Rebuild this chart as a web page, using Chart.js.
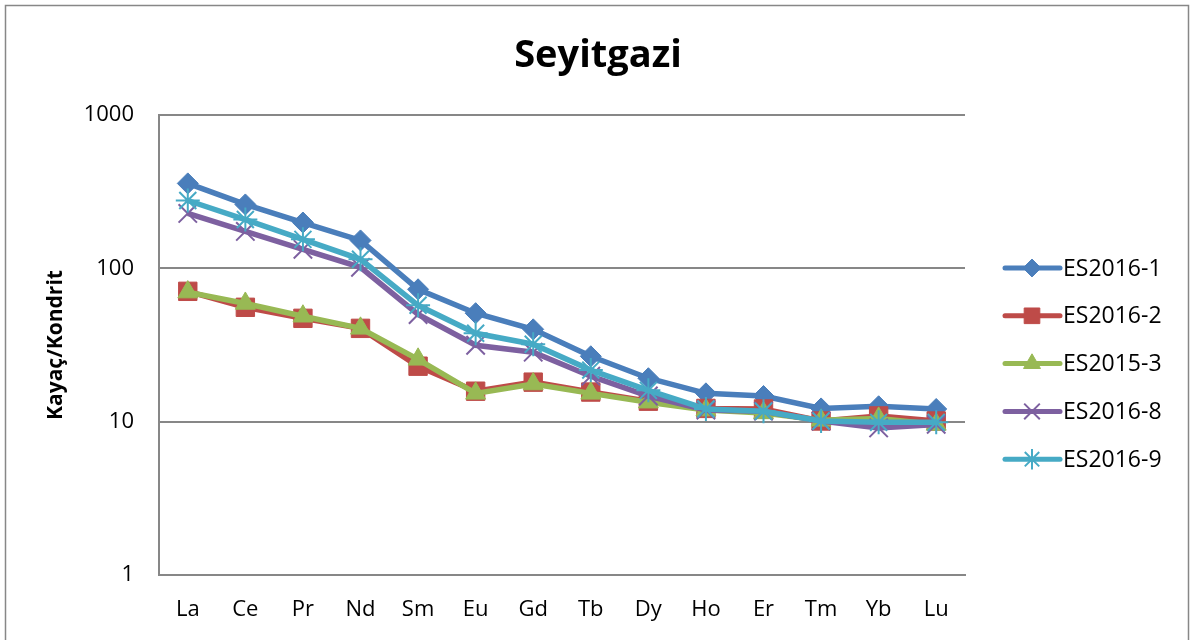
<!DOCTYPE html>
<html>
<head>
<meta charset="utf-8">
<script src="https://cdn.jsdelivr.net/npm/chart.js@4"></script>
<style>
  html, body { margin: 0; padding: 0; background: #fff; }
  #wrap { width: 1194px; height: 640px; position: relative; }
</style>
</head>
<body>
<div id="wrap"><canvas id="c" width="1194" height="640"></canvas></div>
<script>
const categories = ['La','Ce','Pr','Nd','Sm','Eu','Gd','Tb','Dy','Ho','Er','Tm','Yb','Lu'];
const seriesNames = ['ES2016-1','ES2016-2','ES2015-3','ES2016-8','ES2016-9'];
const es2016_1 = [358, 261, 199, 152, 73, 51, 40, 26.7, 19.2, 15.3, 14.7, 12.2, 12.6, 12.1];
const es2016_2 = [70.8, 55.7, 47.2, 40.6, 23, 15.8, 18.1, 15.6, 13.6, 12.2, 12.1, 10.1, 10.9, 10.1];
const es2015_3 = [70, 59, 48.7, 40.6, 25.5, 15.3, 17.6, 15.3, 13.4, 11.9, 11.4, 10.2, 10.5, 9.6];
const es2016_8 = [228, 174, 133, 101.6, 50, 31.5, 28.4, 19.8, 14.7, 11.9, 11.7, 10.1, 9.1, 9.6];
const es2016_9 = [277, 208, 154.5, 114.5, 57.4, 37.7, 32, 21.7, 16, 12.1, 11.7, 10.1, 9.9, 9.9];
const yTicks = [1, 10, 100, 1000];
const chartTitle = 'Seyitgazi';
const yTitle = 'Kayaç/Kondrit';

const colors = ['#4A7EBB', '#BE4B48', '#98B954', '#7D60A0', '#46AAC5'];
const markers = ['rectRot', 'rect', 'triangle', 'crossRot', 'star'];
const radii = [10.5, 13, 11.5, 13, 12];
const markerBorder = [1, 1, 1, 2, 2];
const values = [es2016_1, es2016_2, es2015_3, es2016_8, es2016_9];

const FONT = "'Open Sans', 'Liberation Sans', sans-serif";

const datasets = values.map((v, i) => ({
  label: seriesNames[i],
  data: v,
  order: values.length - i,
  borderColor: colors[i],
  backgroundColor: colors[i],
  pointBackgroundColor: colors[i],
  pointBorderColor: colors[i],
  pointStyle: markers[i],
  pointRadius: radii[i],
  pointBorderWidth: markerBorder[i],
  borderWidth: 5.5,
  tension: 0,
  fill: false
}));

const frame = {
  id: 'frame',
  beforeDraw(chart) {
    const ctx = chart.ctx;
    ctx.save();
    ctx.fillStyle = '#fff';
    ctx.fillRect(0, 0, chart.width, chart.height);
    ctx.strokeStyle = '#878787';
    ctx.lineWidth = 1.5;
    ctx.strokeRect(5.5, 5.5, 1183, 650);
    ctx.fillStyle = '#000';
    ctx.font = 'bold 38px ' + FONT;
    ctx.textAlign = 'center';
    ctx.textBaseline = 'middle';
    ctx.fillText(chartTitle, 598, 56);
    ctx.restore();
  }
};

const legendPlugin = {
  id: 'customLegend',
  afterDraw(chart) {
    const ctx = chart.ctx;
    const x0 = 1005, x1 = 1060, xm = 1032;
    const yStart = 268, step = 47.8;
    chart.data.datasets.forEach((ds, i) => {
      const y = yStart + i * step;
      ctx.save();
      ctx.strokeStyle = ds.borderColor;
      ctx.lineWidth = 5;
      ctx.lineCap = 'round';
      ctx.beginPath();
      ctx.moveTo(x0, y);
      ctx.lineTo(x1, y);
      ctx.stroke();
      ctx.lineCap = 'butt';
      ctx.fillStyle = ds.pointBackgroundColor;
      ctx.strokeStyle = ds.pointBorderColor;
      ctx.lineWidth = ds.pointBorderWidth;
      Chart.helpers.drawPoint(ctx, {
        pointStyle: ds.pointStyle,
        radius: ds.pointRadius * 0.85,
        borderWidth: ds.pointBorderWidth,
        rotation: 0
      }, xm, y);
      ctx.fillStyle = '#000';
      ctx.font = '23px ' + FONT;
      ctx.textBaseline = 'middle';
      ctx.textAlign = 'left';
      ctx.fillText(ds.label, 1063, y + 1);
      ctx.restore();
    });
  }
};

new Chart(document.getElementById('c'), {
  type: 'line',
  data: { labels: categories, datasets },
  plugins: [frame, legendPlugin],
  options: {
    responsive: false,
    animation: false,
    devicePixelRatio: 1,
    layout: { padding: { left: 0, right: 229, top: 115, bottom: 0 } },
    plugins: {
      legend: { display: false },
      tooltip: { enabled: false },
      title: { display: false }
    },
    scales: {
      x: {
        type: 'category',
        offset: true,
        grid: { display: false, drawTicks: false },
        border: { display: true, color: '#878787', width: 2 },
        ticks: {
          color: '#000',
          font: { family: FONT, size: 22 },
          padding: 22,
          maxRotation: 0,
          autoSkip: false
        },
        afterFit(s) { s.height = 65; }
      },
      y: {
        type: 'logarithmic',
        min: 1,
        max: 1000,
        afterBuildTicks(s) { s.ticks = yTicks.map(v => ({ value: v })); },
        grid: { color: '#878787', lineWidth: 2, drawTicks: false },
        border: { display: true, color: '#878787', width: 2 },
        ticks: {
          color: '#000',
          font: { family: FONT, size: 22 },
          padding: 25,
          callback: (v) => String(v)
        },
        title: {
          display: true,
          text: yTitle,
          color: '#000',
          font: { family: FONT, size: 21, weight: 'bold' },
          padding: { top: 43, bottom: 0 }
        },
        afterFit(s) { s.width = 159; }
      }
    }
  }
});
</script>
</body>
</html>
